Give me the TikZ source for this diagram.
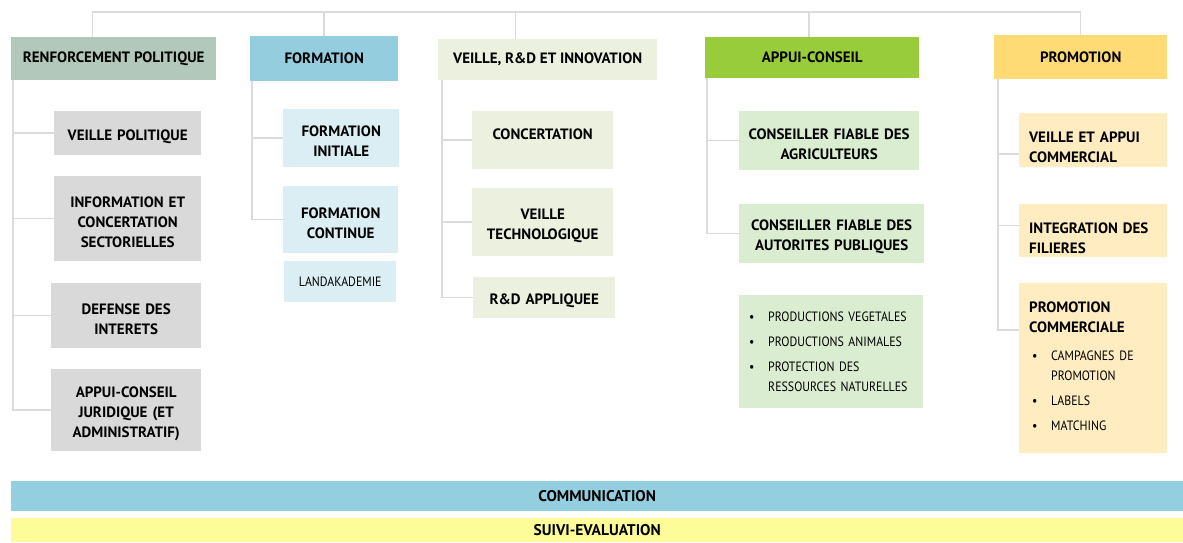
\documentclass[tikz,border=0pt]{standalone}
\usepackage{fontspec}
\setmainfont{PT Sans}
\newfontfamily\litefont{PT Sans}[FakeStretch=0.88]
\usetikzlibrary{positioning,calc}

\definecolor{renfH}{RGB}{178,200,187}
\definecolor{renfS}{RGB}{217,217,217}
\definecolor{formH}{RGB}{147,205,222}
\definecolor{formS}{RGB}{219,238,243}
\definecolor{veilH}{RGB}{235,241,222}
\definecolor{veilS}{RGB}{235,241,222}
\definecolor{appH}{RGB}{152,204,58}
\definecolor{appS}{RGB}{218,237,208}
\definecolor{promH}{RGB}{255,219,118}
\definecolor{promS}{RGB}{255,236,192}
\definecolor{commC}{RGB}{148,207,224}
\definecolor{suivC}{RGB}{252,252,152}

\newcommand\itm[1]{\makebox[19pt][l]{\textbullet}#1}
\newcommand\itx{\hspace*{19pt}}

\begin{document}
\begin{tikzpicture}[x=1pt,y=-1pt,
    line/.style={draw=black!14, line width=1.5pt},
    head/.style={font=\bfseries\fontsize{15}{19}\selectfont, inner sep=0pt, align=center, anchor=north west},
    sub/.style={font=\bfseries\fontsize{15}{20}\selectfont, inner sep=0pt, align=center, anchor=north west,
        text width=#1, minimum width=#1, execute at begin node={\rule{0pt}{17pt}}},
    psub/.style={sub=128pt, align=left, inner xsep=10pt, minimum width=148pt,
        execute at begin node={\rule{0pt}{25pt}}},
    lite/.style={font=\litefont\fontsize{13.5}{20}\selectfont, inner sep=0pt, anchor=north west},
    bar/.style={font=\bfseries\fontsize{15.5}{17}\selectfont, inner sep=0pt, anchor=north west, minimum width=1172pt}]
    \useasboundingbox (0,0) rectangle (1183,542);

    % Headers
    \node[head, fill=renfH, minimum width=205pt, minimum height=43pt] (renf) at (11,37) {RENFORCEMENT POLITIQUE};
    \node[head, fill=formH, minimum width=148pt, minimum height=45pt] (form) at (250,36) {FORMATION};
    \node[head, fill=veilH, minimum width=219pt, minimum height=41pt] (veil) at (438,39) {VEILLE, R\&D ET INNOVATION};
    \node[head, fill=appH, minimum width=214pt, minimum height=41pt] (appui) at (705,37) {APPUI-CONSEIL};
    \node[head, fill=promH, minimum width=173pt, minimum height=44pt] (promo) at (994,35) {PROMOTION};

    % Top line
    \coordinate (top) at (0,12);
    \draw[line] ([xshift=-21pt]renf.north) -- ([xshift=-21pt]renf.north |- top) -| (promo.north);
    \draw[line] (form.north) -- (form.north |- top);
    \draw[line] ([xshift=-32pt]veil.north) -- ([xshift=-32pt]veil.north |- top);
    \draw[line] ([xshift=-3pt]appui.north) -- ([xshift=-3pt]appui.north |- top);

    % Renforcement politique
    \node[sub=147pt, fill=renfS, minimum height=44pt] (vpol) at (54,111) {VEILLE POLITIQUE};
    \node[sub=147pt, fill=renfS, minimum height=85pt] (info) at (54,176) {INFORMATION ET\\CONCERTATION\\SECTORIELLES};
    \node[sub=150pt, fill=renfS, minimum height=65pt] (def) at (51,283) {DEFENSE DES\\INTERETS};
    \node[sub=150pt, fill=renfS, minimum height=82pt] (jur) at (51,369) {APPUI-CONSEIL\\JURIDIQUE (ET\\ADMINISTRATIF)};
    \foreach \n in {vpol,info,def,jur}
        \draw[line] ([xshift=2pt]renf.south west) |- (\n.west);

    % Formation
    \node[sub=116pt, fill=formS, minimum height=58pt] (finit) at (283,109) {FORMATION\\INITIALE};
    \node[sub=115pt, fill=formS, minimum height=67pt] (fcont) at (283,186) {FORMATION\\CONTINUE};
    \node[lite, fill=formS, minimum width=112pt, minimum height=41pt] (land) at (284,261) {LANDAKADEMIE};
    \foreach \n in {finit,fcont}
        \draw[line] ([xshift=2pt]form.south west) |- (\n.west);

    % Veille, R&D et innovation
    \node[sub=141pt, fill=veilS, minimum height=58pt] (conc) at (472,111) {CONCERTATION\\[-2pt]\mbox{}};
    \node[sub=141pt, fill=veilS, minimum height=68pt] (vtech) at (472,188) {VEILLE\\TECHNOLOGIQUE};
    \node[sub=142pt, fill=veilS, minimum height=41pt] (rda) at (473,277) {R\&D APPLIQUEE};
    \foreach \n in {conc,vtech,rda}
        \draw[line] ([xshift=4pt]veil.south west) |- (\n.west);

    % Appui-conseil
    \node[sub=180pt, fill=appS, minimum height=59pt] (cagr) at (739,111) {CONSEILLER FIABLE DES\\AGRICULTEURS};
    \node[sub=185pt, fill=appS, minimum height=59pt] (caut) at (739,204) {CONSEILLER FIABLE DES\\AUTORITES PUBLIQUES};
    \node[lite, fill=appS, align=left, inner xsep=10pt, text width=164pt, minimum height=113pt] (prod) at (739,295)
        {\itm{PRODUCTIONS VEGETALES}\\[5pt]\itm{PRODUCTIONS ANIMALES}\\[5pt]\itm{PROTECTION DES}\\\itx RESSOURCES NATURELLES};
    \foreach \n in {cagr,caut}
        \draw[line] ([xshift=2pt]appui.south west) |- (\n.west);

    % Promotion
    \node[psub, fill=promS, minimum height=54pt] (vapp) at (1019,113) {VEILLE ET APPUI\\COMMERCIAL};
    \node[psub, fill=promS, minimum height=53pt] (integ) at (1019,204) {INTEGRATION DES\\FILIERES};
    \node[psub, fill=promS, minimum height=170pt, execute at begin node={}] (pcom) at (1019,283)
        {PROMOTION\\COMMERCIALE\\[8pt]
        {\litefont\mdseries\fontsize{13.5}{20}\selectfont\hspace*{3pt}\itm{CAMPAGNES DE}\\\hspace*{3pt}\itx PROMOTION\\[5pt]\hspace*{3pt}\itm{LABELS}\\[5pt]\hspace*{3pt}\itm{MATCHING}}\\[-2pt]\mbox{}};
    \draw[line] ([xshift=4pt]promo.south west) |- ([yshift=-14pt]vapp.west);
    \draw[line] ([xshift=4pt]promo.south west) |- ([yshift=5pt]integ.west);
    \draw[line] ([xshift=4pt]promo.south west) |- ([yshift=38pt]pcom.west);

    % Bottom bars
    \node[bar, fill=commC, minimum height=30pt] (comm) at (11,481) {COMMUNICATION};
    \node[bar, fill=suivC, minimum height=24pt] (suivi) at (11,518) {SUIVI-EVALUATION};
\end{tikzpicture}
\end{document}
